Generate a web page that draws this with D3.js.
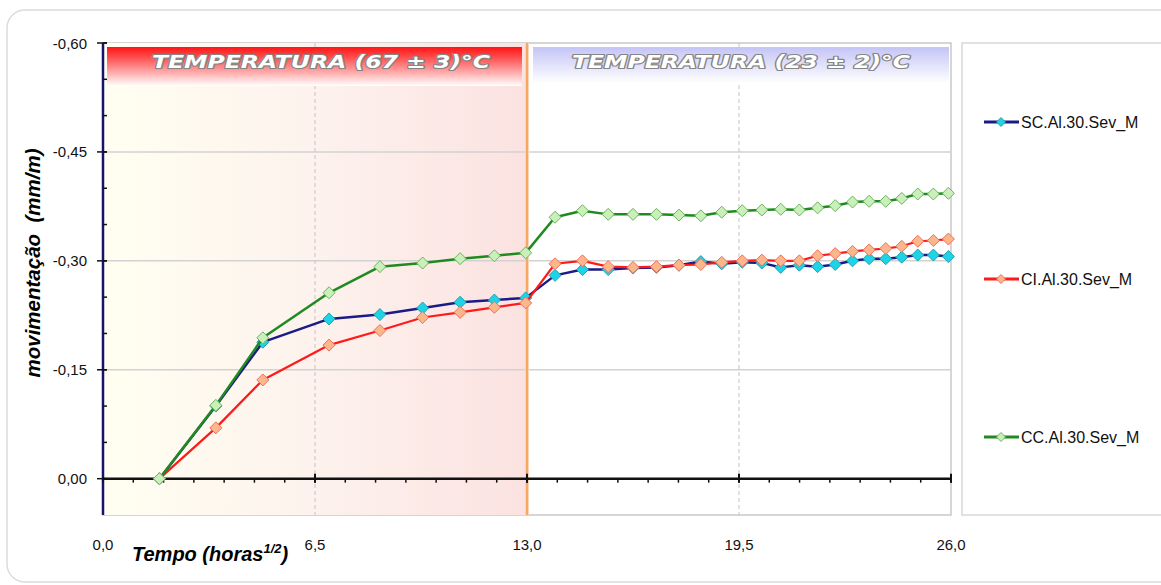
<!DOCTYPE html>
<html lang="pt">
<head>
  <meta charset="UTF-8">
  <title>movimentação x tempo</title>
  <style>
    body { margin: 0; background: #fff; }
    svg { display: block; font-family: "Liberation Sans", Arial, sans-serif; }
  </style>
</head>
<body>
  <svg width="1161" height="585"></svg>
  <script src="https://d3js.org/d3.v7.min.js"></script>
  <script>
    // tempo em horas^1/2
    const tempo = [1.73, 3.46, 4.90, 6.93, 8.49, 9.80, 10.95, 12.00, 12.96,
      13.86, 14.70, 15.49, 16.25, 16.97, 17.66, 18.33, 18.97, 19.60, 20.20,
      20.78, 21.35, 21.91, 22.45, 22.98, 23.49, 24.00, 24.49, 24.98, 25.46, 25.92];

    // movimentação (mm/m)
    const scValores = [0, -0.100, -0.188, -0.220, -0.226, -0.235, -0.243, -0.246, -0.249,
      -0.280, -0.288, -0.288, -0.290, -0.291, -0.294, -0.299, -0.296, -0.298, -0.297,
      -0.291, -0.294, -0.292, -0.295, -0.300, -0.303, -0.303, -0.305, -0.308, -0.308, -0.306];
    const ciValores = [0, -0.070, -0.136, -0.184, -0.204, -0.222, -0.229, -0.236, -0.242,
      -0.296, -0.300, -0.292, -0.291, -0.292, -0.294, -0.295, -0.298, -0.300, -0.301,
      -0.300, -0.300, -0.307, -0.310, -0.313, -0.315, -0.317, -0.320, -0.327, -0.328, -0.330];
    const ccValores = [0, -0.101, -0.194, -0.256, -0.292, -0.297, -0.303, -0.307, -0.311,
      -0.360, -0.369, -0.364, -0.364, -0.364, -0.363, -0.362, -0.367, -0.369, -0.370,
      -0.371, -0.370, -0.373, -0.376, -0.381, -0.382, -0.382, -0.386, -0.392, -0.392, -0.393];

    const xTicks = [0, 6.5, 13, 19.5, 26];
    const yTicks = [-0.60, -0.45, -0.30, -0.15, 0];
    const nomes = ["SC.Al.30.Sev_M", "CI.Al.30.Sev_M", "CC.Al.30.Sev_M"];
    const fases = [
      { de: 0, ate: 13, texto: "TEMPERATURA (67 ± 3)°C" },
      { de: 13, ate: 26, texto: "TEMPERATURA (23 ± 2)°C" }
    ];

    const series = [
      { nome: nomes[0], valores: scValores, linha: "#1b1b86", fill: "#1fd3e6", stroke: "#2b9fae", w: 2.5 },
      { nome: nomes[1], valores: ciValores, linha: "#ff1a1a", fill: "#fbb68c", stroke: "#f0705a", w: 2.2 },
      { nome: nomes[2], valores: ccValores, linha: "#1f8a1f", fill: "#c9f0bb", stroke: "#6cb35c", w: 2.5 }
    ];

    const svg = d3.select("svg");
    const pLeft = 103, pRight = 951, pTop = 43, pBottom = 515;

    const x = d3.scaleLinear().domain([0, 26]).range([pLeft, pRight]);
    const y = d3.scaleLinear().domain([0.05, -0.60]).range([pBottom, pTop]);

    const br = d3.formatLocale({ decimal: ",", thousands: ".", grouping: [3], currency: ["", ""], minus: "-" });
    const fmtY = br.format(".2f"), fmtX = br.format(".1f");

    const defs = svg.append("defs");
    function grad(id, x2, y2, stops) {
      const g = defs.append("linearGradient").attr("id", id)
        .attr("x1", 0).attr("y1", 0).attr("x2", x2).attr("y2", y2);
      stops.forEach(s => g.append("stop").attr("offset", s[0]).attr("stop-color", s[1]));
    }
    grad("fundoQuente", 1, 0, [[0, "#fffff1"], [0.5, "#fdf2ed"], [1, "#fbe2e1"]]);
    grad("bordaQuente", 1, 0, [[0, "#1b1b86"], [0.6, "#e0204a"], [1, "#f7a050"]]);
    grad("faixa0", 0, 1, [[0, "#ff1414"], [0.25, "#ff4a4a"], [1, "#ffffff"]]);
    grad("faixa1", 0, 1, [[0, "#c4c4f6"], [1, "#ffffff"]]);

    // moldura externa
    svg.append("rect")
      .attr("x", 7).attr("y", 10).attr("width", 1175).attr("height", 572).attr("rx", 18)
      .attr("fill", "#fff").attr("stroke", "#dcdcdc").attr("stroke-width", 1.5);

    // área do gráfico
    svg.append("rect")
      .attr("x", pLeft).attr("y", pTop).attr("width", pRight - pLeft).attr("height", pBottom - pTop)
      .attr("fill", "#fff").attr("stroke", "#c8c8c8").attr("stroke-width", 1.5);

    // fase aquecida
    svg.append("rect")
      .attr("x", x(0)).attr("y", pTop).attr("width", x(13) - x(0)).attr("height", pBottom - pTop)
      .attr("fill", "url(#fundoQuente)");
    svg.append("line").attr("x1", x(0)).attr("x2", x(13)).attr("y1", pTop).attr("y2", pTop)
      .attr("stroke", "url(#bordaQuente)").attr("stroke-width", 2);
    svg.append("line").attr("x1", x(0)).attr("x2", x(13)).attr("y1", pBottom).attr("y2", pBottom)
      .attr("stroke", "url(#bordaQuente)").attr("stroke-width", 2);

    // grade horizontal
    svg.append("g").selectAll("line").data([-0.45, -0.30, -0.15]).join("line")
      .attr("x1", pLeft).attr("x2", pRight).attr("y1", d => y(d)).attr("y2", d => y(d))
      .attr("stroke", "#d2d2d2").attr("stroke-width", 1.5);

    // grade vertical tracejada
    svg.append("g").selectAll("line").data([6.5, 19.5]).join("line")
      .attr("x1", d => x(d)).attr("x2", d => x(d)).attr("y1", pTop).attr("y2", pBottom)
      .attr("stroke", "#c4c4c4").attr("stroke-width", 1).attr("stroke-dasharray", "4,3");

    // divisa em 13
    svg.append("rect").attr("x", x(13) - 2).attr("y", pTop).attr("width", 4).attr("height", pBottom - pTop)
      .attr("fill", "#fcd5b8");
    svg.append("line").attr("x1", x(13)).attr("x2", x(13)).attr("y1", pTop).attr("y2", pBottom)
      .attr("stroke", "#f5a35a").attr("stroke-width", 1.8);

    // faixas de temperatura
    const faixa = svg.append("g").selectAll("g").data(fases).join("g");
    faixa.append("rect")
      .attr("x", (d, i) => i === 0 ? x(d.de) + 4 : x(d.de) + 6)
      .attr("y", 47)
      .attr("width", (d, i) => i === 0 ? x(d.ate) - x(d.de) - 9 : x(d.ate) - x(d.de) - 8)
      .attr("height", (d, i) => i === 0 ? 39 : 36)
      .attr("fill", (d, i) => `url(#faixa${i})`);
    faixa.append("text")
      .attr("x", (d, i) => i === 0 ? 321 : 741)
      .attr("y", 68)
      .attr("text-anchor", "middle")
      .attr("textLength", 338).attr("lengthAdjust", "spacingAndGlyphs")
      .style("font-family", "'DejaVu Sans', sans-serif")
      .attr("font-size", 17).attr("font-weight", "bold").attr("font-style", "italic")
      .attr("fill", "#fff").attr("stroke", "#858585").attr("stroke-width", 2.2)
      .attr("paint-order", "stroke").attr("stroke-linejoin", "round")
      .text(d => d.texto);

    // eixo y
    const eixoY = svg.append("g");
    eixoY.append("line").attr("x1", pLeft).attr("x2", pLeft).attr("y1", pTop).attr("y2", pBottom)
      .attr("stroke", "#14146e").attr("stroke-width", 2.5);
    eixoY.selectAll(".menor").data(d3.range(-0.60, 0.001, 0.05)).join("line")
      .attr("x1", pLeft).attr("x2", pLeft + 4).attr("y1", d => y(d)).attr("y2", d => y(d))
      .attr("stroke", "#111").attr("stroke-width", 1.5);
    eixoY.selectAll(".maior").data(yTicks).join("line")
      .attr("x1", pLeft - 6).attr("x2", pLeft + 4).attr("y1", d => y(d)).attr("y2", d => y(d))
      .attr("stroke", "#111").attr("stroke-width", 1.5);
    eixoY.selectAll("text").data(yTicks).join("text")
      .attr("x", 87).attr("y", d => y(d) + 5.5).attr("text-anchor", "end")
      .attr("font-size", 15).attr("fill", "#111")
      .text(d => fmtY(d));

    // eixo x em zero
    const eixoX = svg.append("g");
    eixoX.append("line").attr("x1", pLeft).attr("x2", pRight).attr("y1", y(0)).attr("y2", y(0))
      .attr("stroke", "#111").attr("stroke-width", 2.5);
    eixoX.selectAll(".menor").data(d3.range(0, 29).map(i => i * 26 / 28)).join("line")
      .attr("x1", d => x(d)).attr("x2", d => x(d)).attr("y1", y(0)).attr("y2", y(0) + 4)
      .attr("stroke", "#111").attr("stroke-width", 1.5);
    eixoX.selectAll(".maior").data(xTicks.slice(1)).join("line")
      .attr("x1", d => x(d)).attr("x2", d => x(d)).attr("y1", y(0) - 5).attr("y2", y(0) + 4)
      .attr("stroke", "#111").attr("stroke-width", 2);
    svg.append("g").selectAll("text").data(xTicks).join("text")
      .attr("x", d => x(d)).attr("y", 550).attr("text-anchor", "middle")
      .attr("font-size", 15).attr("fill", "#111")
      .text(d => fmtX(d));

    // títulos dos eixos
    const tx = svg.append("text").attr("x", 132).attr("y", 561)
      .attr("font-size", 20).attr("font-weight", "bold").attr("font-style", "italic").attr("fill", "#000");
    tx.append("tspan").text("Tempo (horas");
    tx.append("tspan").attr("font-size", 13).attr("dy", -8).text("1/2");
    tx.append("tspan").attr("dy", 8).text(")");

    svg.append("text")
      .attr("transform", "translate(40,263) rotate(-90)")
      .attr("text-anchor", "middle").style("white-space", "pre")
      .attr("font-size", 20.5).attr("font-weight", "bold").attr("font-style", "italic").attr("fill", "#000")
      .text("movimentação  (mm/m)");

    // séries
    const diamante = r => `M0,${-r}L${r},0L0,${r}L${-r},0Z`;
    const linha = d3.line().x(d => x(d[0])).y(d => y(d[1]));
    series.forEach(s => {
      const pts = tempo.map((t, i) => [t, s.valores[i]]);
      const g = svg.append("g");
      g.append("path").datum(pts).attr("d", linha)
        .attr("fill", "none").attr("stroke", s.linha).attr("stroke-width", s.w)
        .attr("stroke-linejoin", "round");
      g.selectAll("path.m").data(pts).join("path").attr("class", "m")
        .attr("transform", d => `translate(${x(d[0])},${y(d[1])})`)
        .attr("d", diamante(6))
        .attr("fill", s.fill).attr("stroke", s.stroke).attr("stroke-width", 1);
    });

    // legenda
    svg.append("rect").attr("x", 962).attr("y", pTop).attr("width", 230).attr("height", pBottom - pTop)
      .attr("fill", "#fff").attr("stroke", "#d8d8d8").attr("stroke-width", 1.5);
    const leg = svg.append("g").selectAll("g").data(series).join("g")
      .attr("transform", (d, i) => `translate(0,${[122, 279, 437][i]})`);
    leg.append("line").attr("x1", 984).attr("x2", 1019).attr("y1", 0).attr("y2", 0)
      .attr("stroke", d => d.linha).attr("stroke-width", 3);
    leg.append("path").attr("transform", "translate(1001,0)").attr("d", diamante(4.5))
      .attr("fill", d => d.fill).attr("stroke", d => d.stroke).attr("stroke-width", 1);
    leg.append("text").attr("x", 1021).attr("y", 5.5)
      .attr("font-size", 16).attr("fill", "#111")
      .text(d => d.nome);
  </script>
</body>
</html>
